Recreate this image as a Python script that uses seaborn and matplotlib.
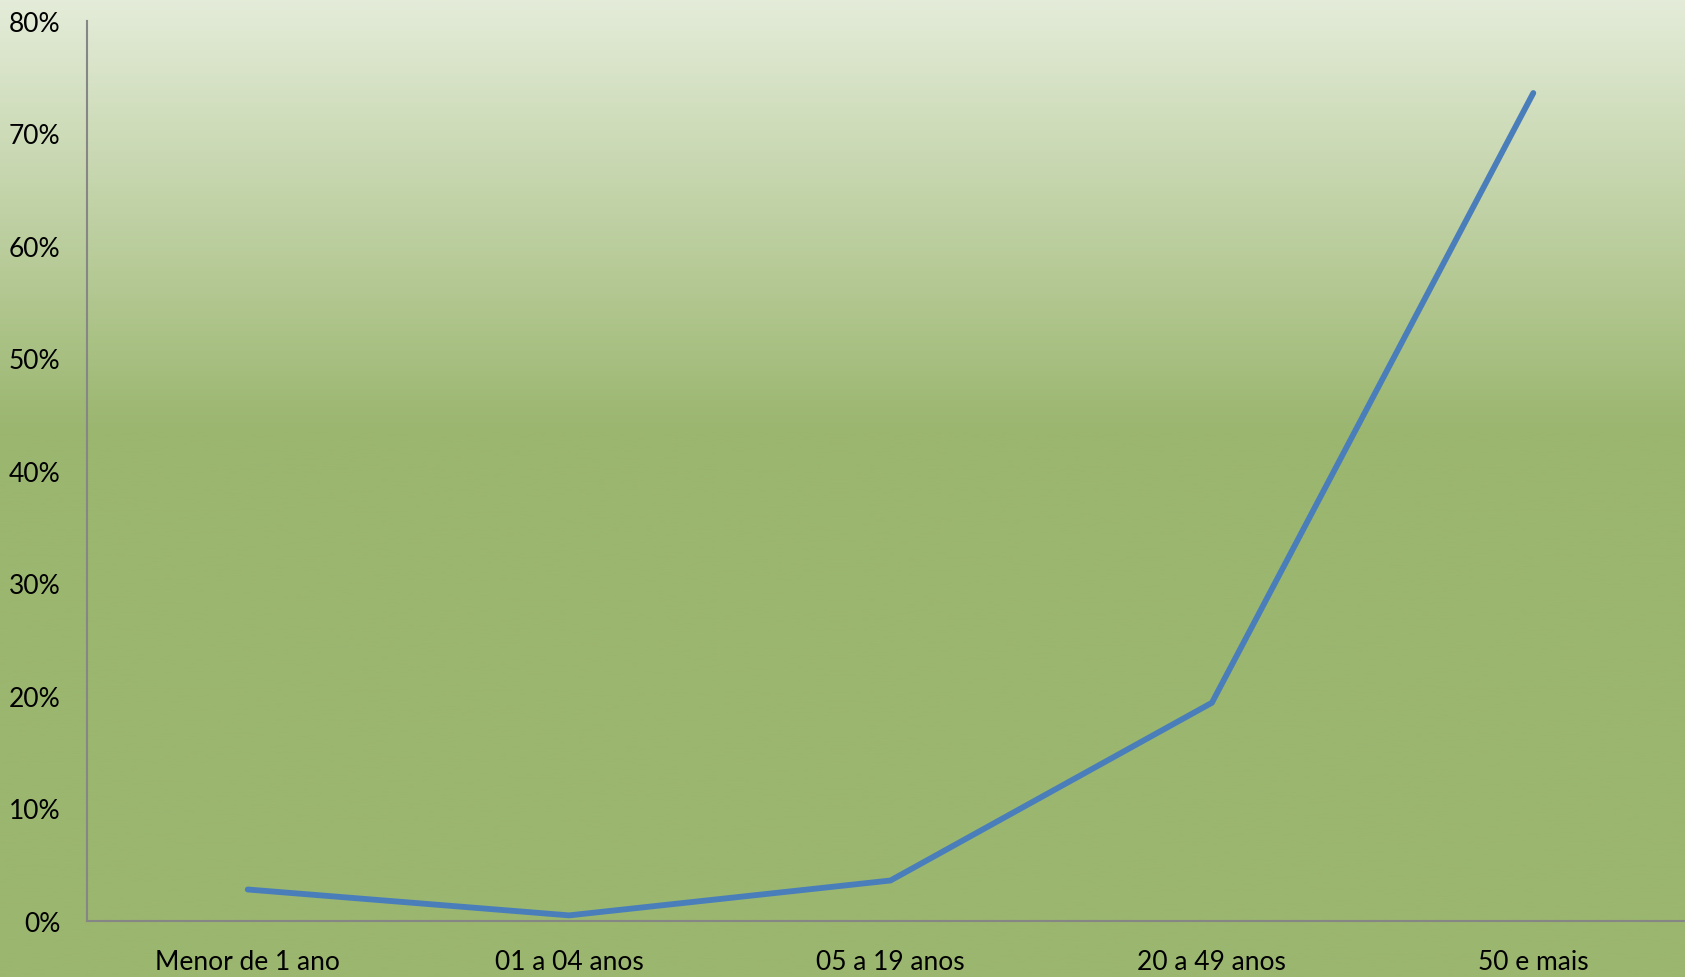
import numpy as np
import matplotlib
matplotlib.use("Agg")
import matplotlib.pyplot as plt
from matplotlib.colors import LinearSegmentedColormap
from matplotlib.ticker import FuncFormatter, MultipleLocator
import seaborn as sns

categories = ["Menor de 1 ano", "01 a 04 anos", "05 a 19 anos", "20 a 49 anos", "50 e mais"]
values = [0.028, 0.005, 0.036, 0.194, 0.736]

sns.set_style("white")
plt.rcParams['font.family'] = ['Lato', 'DejaVu Sans']

W, H, DPI = 1685, 978, 100
fig = plt.figure(figsize=(W / DPI, H / DPI), dpi=DPI)

# gradient background
bg = fig.add_axes([0, 0, 1, 1], zorder=-10)
cmap = LinearSegmentedColormap.from_list(
    "bg", [(0.0, "#e4ecd9"), (0.44, "#9bb66f"), (1.0, "#9bb66f")])
grad = np.linspace(0, 1, 500).reshape(-1, 1)
bg.imshow(grad, aspect="auto", cmap=cmap, extent=[0, 1, 0, 1], origin="upper")
bg.set_axis_off()

ax = fig.add_axes([87 / W, (978 - 922) / H, (1694 - 87) / W, (922 - 22) / H])
ax.set_facecolor("none")

sns.lineplot(x=categories, y=values, sort=False, ax=ax, color="#4a7ebb",
             linewidth=4.2, solid_capstyle="round", solid_joinstyle="round")

ax.set_xlim(-0.5, 4.5)
ax.set_ylim(0, 0.8)
ax.yaxis.set_major_locator(MultipleLocator(0.1))
ax.yaxis.set_major_formatter(FuncFormatter(lambda v, p: f"{v * 100:.0f}%"))
ax.set_xlabel("")
ax.set_ylabel("")

for s in ["top", "right"]:
    ax.spines[s].set_visible(False)
for s in ["left", "bottom"]:
    ax.spines[s].set_color("#868686")
    ax.spines[s].set_linewidth(1.5)

ax.tick_params(axis="y", length=0, pad=19, labelsize=19, labelcolor="#000000")
ax.tick_params(axis="x", length=0, pad=20, labelsize=19, labelcolor="#000000")
ax.grid(False)

fig.savefig("out.png", dpi=DPI)
